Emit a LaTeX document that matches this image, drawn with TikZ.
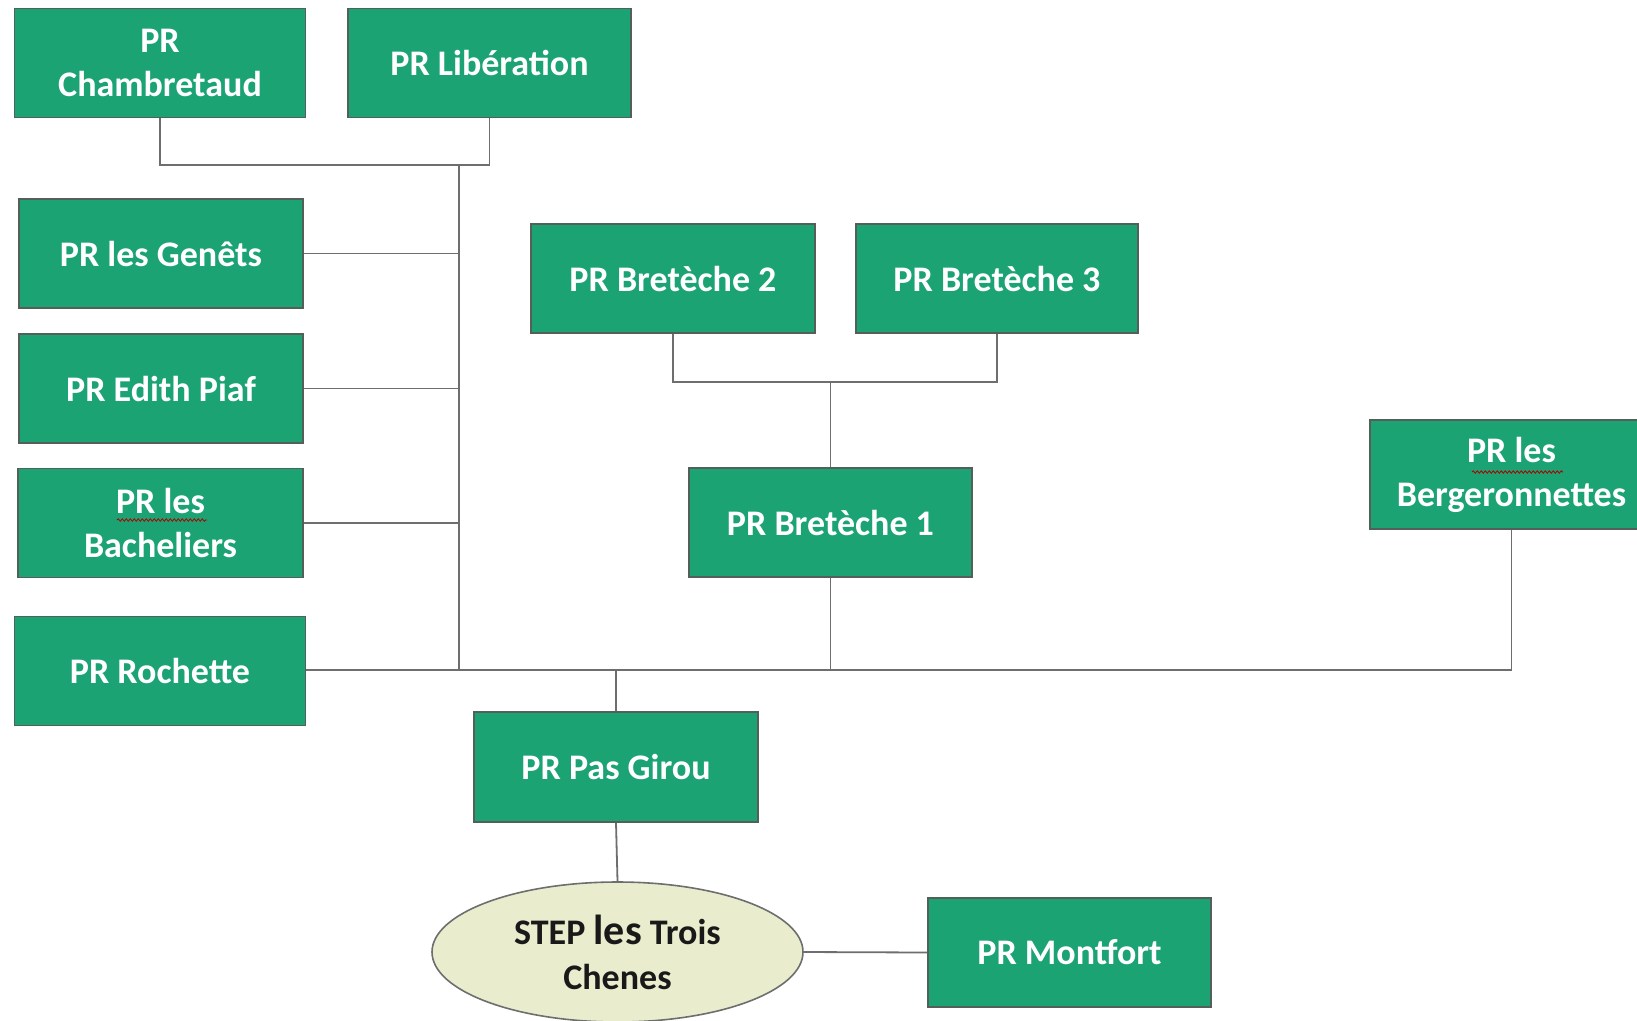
\documentclass[tikz,border=0pt]{standalone}
\usepackage{fontspec}
\setmainfont{Carlito}
\usetikzlibrary{shapes.geometric,decorations.pathmorphing}
\definecolor{boxgreen}{RGB}{27,163,116}
\definecolor{boxedge}{RGB}{85,95,90}
\definecolor{wire}{RGB}{110,110,110}
\definecolor{stepfill}{RGB}{233,237,205}
\tikzset{
  station/.style={draw=boxedge, line width=1.6pt, fill=boxgreen, text=white,
    font=\fontsize{36}{44}\selectfont\bfseries, align=center,
    minimum width=283pt, minimum height=109pt, inner sep=0pt},
  plant/.style={ellipse, draw=wire, line width=1.6pt, fill=stepfill, text=black!90,
    font=\fontsize{36}{45}\selectfont\bfseries, align=center,
    minimum width=371pt, minimum height=140pt, inner sep=0pt},
  wire/.style={draw=wire, line width=1.8pt},
  squiggle/.style={draw=red!70!black, line width=0.8pt, decorate,
    decoration={snake, amplitude=1.2pt, segment length=4pt}}
}
\begin{document}
\begin{tikzpicture}[x=1pt, y=-1pt]
\useasboundingbox (0,0) rectangle (1637,1020);
\fill[white] (0,0) rectangle (1637,1020);

% pumping stations
\node[station, minimum width=291pt] (chamb) at (160,63) {PR\\Chambretaud};
\node[station] (lib)   at (489.5,63)  {PR Libération};
\node[station, minimum width=284pt] (genets) at (161,253.5) {PR les Genêts};
\node[station, minimum width=284pt] (piaf)   at (161,388.5) {PR Edith Piaf};
\node[station, minimum width=285pt] (bach)   at (160.5,523) {PR les\\Bacheliers};
\node[station, minimum width=291pt] (roch)   at (160,671)   {PR Rochette};
\node[station, minimum width=284pt] (b2) at (673,278.5) {PR Bretèche 2};
\node[station, minimum width=282pt] (b3) at (997,278.5) {PR Bretèche 3};
\node[station] (b1) at (830.5,522.5) {PR Bretèche 1};
\node[station] (berg) at (1511.5,474.5) {PR les\\Bergeronnettes};
\node[station, minimum width=284pt, minimum height=110pt] (pas) at (616,767) {PR Pas Girou};
\node[plant] (step) at (617.5,952) {STEP {\fontsize{42}{45}\selectfont les} Trois\\Chenes};
\node[station] (mont) at (1069.5,952.5) {PR Montfort};

% junction points
\coordinate (topj) at (459,165);
\coordinate (mainj) at (459,670);
\coordinate (bj) at (830.5,382);

% collector network
\draw[wire] (chamb.south) |- (topj) -| (lib.south);
\draw[wire] (topj) -- (mainj);
\draw[wire] (genets.east) -- (genets.east -| topj);
\draw[wire] (piaf.east) -- (piaf.east -| topj);
\draw[wire] (bach.east) -- (bach.east -| topj);
\draw[wire] (roch.east |- mainj) -- (mainj) -| (berg.south);
\draw[wire] (b2.south) |- (bj) -| (b3.south);
\draw[wire] (bj) -- (b1.north);
\draw[wire] (b1.south) -- (b1.south |- mainj);
\draw[wire] (pas.north |- mainj) -- (pas.north);
\draw[wire] (pas.south) -- (step.north);
\draw[wire] (step.east) -- (mont.west);

% spell-check marks under "PR les"
\draw[squiggle] (117,520) -- (207,520);
\draw[squiggle] (1472,472) -- (1563,472);
\end{tikzpicture}
\end{document}
